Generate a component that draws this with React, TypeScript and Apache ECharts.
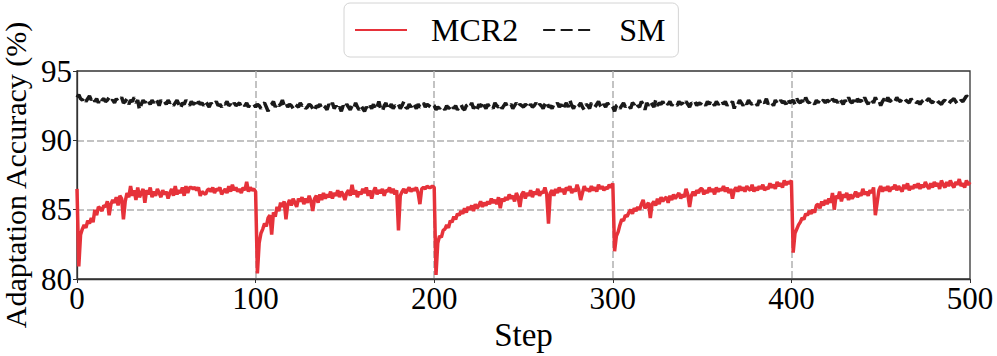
import React, { useEffect, useRef } from "react";
import * as echarts from "echarts";

// ---- Data ----
const xTicks = [0, 100, 200, 300, 400, 500];
const yTicks = [80, 85, 90, 95];

const mcr2Seg1 = [
  86.5, 80.9, 83.2, 83.6, 83.9, 83.7, 84.2, 84.0, 84.4, 84.1,
  85.0, 84.6, 85.2, 85.1, 84.9, 85.3, 85.2, 85.6, 84.6, 85.4,
  85.7, 85.5, 85.9, 85.3, 86.0, 85.8, 84.3, 85.6, 86.2, 85.9,
  86.7, 86.0, 86.4, 85.7, 86.6, 85.9, 86.2, 86.5, 85.5, 86.4,
  86.1, 86.6, 85.9, 86.3, 86.0, 86.5, 86.2, 85.9, 86.4, 86.1,
  86.3, 85.8, 86.2, 86.5, 86.0, 86.7, 86.1, 86.4, 86.2, 86.6,
  86.0, 86.7, 86.2, 86.6, 86.6, 86.5, 86.6, 86.4, 86.6, 86.0,
  86.3, 86.2, 86.1, 86.4, 86.5, 86.3, 86.6, 86.2, 86.5, 86.4,
  86.6, 86.1, 86.3, 86.5, 86.2, 86.7, 86.3, 86.8, 86.4, 86.6,
  86.3, 86.5, 86.2, 86.6, 86.4, 87.0, 86.3, 86.6, 86.4, 86.5,
  86.3,
];
const mcr2Seg2 = [
  80.4, 82.6, 83.3, 83.6, 84.0, 83.8, 84.4, 84.6, 83.2, 84.8,
  84.5, 85.2, 84.9, 85.5, 85.2, 85.6, 84.3, 85.4, 85.7, 85.3,
  85.8, 85.5, 85.2, 85.8, 85.6, 85.9, 85.4, 85.8, 85.5, 86.0,
  85.6, 84.9, 85.8, 86.0, 85.5, 86.1, 85.7, 86.2, 85.8, 86.1,
  85.9, 86.3, 85.8, 86.2, 86.0, 86.4, 85.9, 86.3, 86.1, 85.7,
  86.2, 86.4, 86.0, 86.8, 86.1, 86.4, 85.9, 86.3, 86.1, 86.5,
  86.2, 86.6, 86.0, 86.4, 85.8, 86.3, 86.6, 86.1, 86.4, 86.2,
  86.5, 86.0, 86.4, 86.3, 86.6, 86.2, 86.5, 86.1, 86.4, 83.5,
  86.0, 86.3, 86.5, 86.2, 86.4, 86.6, 86.3, 86.5, 86.4, 86.6,
  86.2, 85.4, 86.5, 86.6, 86.5, 86.7, 86.6, 86.6, 86.7, 86.6,
];
const mcr2Seg3 = [
  80.3, 82.6, 83.1, 83.0, 83.5, 83.6, 83.9, 83.7, 84.2, 84.1,
  84.5, 84.3, 84.7, 84.6, 84.9, 84.7, 85.1, 84.8, 85.2, 85.0,
  85.3, 84.9, 85.4, 85.1, 85.3, 85.6, 85.2, 85.5, 85.3, 85.6,
  85.4, 85.8, 85.5, 85.7, 85.4, 85.9, 85.1, 85.8, 85.6, 85.9,
  85.7, 86.1, 85.8, 86.0, 85.6, 86.2, 85.9, 85.2, 86.1, 86.3,
  85.8, 86.2, 86.0, 86.4, 85.9, 86.3, 86.1, 86.5, 86.0, 86.3,
  86.2, 86.6, 86.1, 84.0, 86.2, 86.4, 86.0, 86.5, 86.2, 86.6,
  86.3, 86.5, 86.1, 86.6, 86.4, 86.7, 86.2, 86.5, 86.3, 86.8,
  86.4, 85.7, 86.2, 86.7, 86.4, 86.5, 86.3, 86.7, 86.4, 86.6,
  86.3, 86.8, 86.5, 86.7, 86.4, 86.6, 86.5, 86.8, 86.6, 86.9,
];
const mcr2Seg4 = [
  82.0, 83.1, 83.4, 83.9, 84.3, 84.2, 84.6, 84.5, 84.8, 85.0,
  84.7, 85.1, 84.9, 85.2, 85.0, 85.4, 85.7, 85.1, 85.3, 85.5,
  84.4, 85.4, 85.6, 85.3, 85.8, 85.4, 85.9, 85.6, 85.8, 85.9,
  85.5, 86.0, 85.7, 86.1, 85.8, 86.0, 86.2, 85.8, 86.1, 85.9,
  86.5, 86.1, 85.2, 86.0, 86.3, 86.0, 86.4, 86.2, 86.5, 86.5,
  86.1, 86.4, 86.2, 86.6, 86.3, 86.5, 86.1, 86.6, 86.3, 86.5,
  86.4, 86.7, 86.3, 86.6, 86.2, 86.5, 85.8, 86.4, 86.6, 86.3,
  86.7, 86.4, 86.6, 86.3, 86.7, 86.5, 86.4, 86.8, 86.3, 86.6,
  86.4, 86.7, 86.5, 86.8, 86.4, 86.6, 86.5, 86.9, 86.6, 86.8,
  86.5, 87.0, 86.7, 86.9, 86.6, 87.1, 86.8, 87.0, 86.9, 87.1,
];
const mcr2Seg5 = [
  81.9, 83.3, 83.6, 83.9, 84.1, 84.4, 84.3, 84.7, 84.6, 84.9,
  84.7, 85.0, 84.8, 85.3, 85.4, 85.1, 85.6, 85.3, 85.7, 85.4,
  85.8, 85.5, 86.2, 85.0, 86.0, 85.8, 86.3, 85.6, 86.1, 85.9,
  86.2, 85.7, 86.1, 85.8, 86.0, 86.3, 85.9, 86.2, 86.0, 86.5,
  86.1, 86.3, 86.0, 86.4, 86.2, 86.6, 84.6, 85.5, 86.4, 86.7,
  86.3, 86.6, 86.4, 86.7, 86.3, 86.6, 86.5, 86.8, 86.4, 86.7,
  86.5, 86.3, 86.8, 86.5, 86.9, 86.4, 86.7, 86.5, 86.8, 86.6,
  86.9, 86.5, 86.8, 86.6, 87.0, 86.7, 86.5, 86.9, 86.6, 87.0,
  86.7, 86.9, 86.5, 87.1, 86.8, 86.6, 87.0, 86.7, 87.1, 86.8,
  86.6, 87.0, 86.8, 87.2, 86.7, 86.9, 86.6, 87.1, 86.8, 87.0,
];
const mcr2Values = [...mcr2Seg1, ...mcr2Seg2, ...mcr2Seg3, ...mcr2Seg4, ...mcr2Seg5];

const smValues = [
  93.1, 93.3, 93.0, 92.9, 93.1, 92.8, 93.0, 93.2, 92.9, 93.1, 92.8, 93.0, 92.7, 93.1, 92.9, 93.0, 92.8, 92.9, 93.1, 92.8,
  92.9, 92.7, 93.0, 92.8, 92.9, 93.1, 92.7, 92.8, 93.0, 92.6, 92.9, 92.8, 93.1, 92.7, 92.9, 92.2, 92.6, 92.9, 92.7, 93.0,
  92.8, 92.6, 92.9, 92.7, 93.0, 92.8, 92.5, 92.9, 92.7, 92.8, 92.6, 92.9, 92.7, 92.8, 92.5, 92.7, 92.9, 92.6, 92.3, 92.7,
  92.6, 92.9, 92.7, 92.5, 92.8, 92.6, 92.7, 92.4, 92.8, 92.6, 92.7, 92.5, 92.8, 92.6, 92.4, 92.7, 92.5, 92.6, 92.8, 92.5,
  92.6, 92.4, 92.7, 92.6, 92.8, 92.5, 92.6, 92.4, 92.7, 92.5, 92.6, 92.7, 92.4, 92.6, 92.5, 92.7, 92.4, 92.6, 92.5, 92.6,
  92.4, 92.6, 92.5, 92.3, 92.6, 92.7, 92.4, 92.1, 92.5, 92.6, 92.8, 92.4, 92.7, 92.5, 92.6, 92.9, 92.5, 92.7, 92.4, 92.6,
  92.5, 92.3, 92.6, 92.5, 92.4, 92.7, 92.5, 92.6, 92.3, 92.4, 92.6, 92.5, 92.3, 92.1, 92.5, 92.4, 92.6, 92.3, 92.5, 92.4,
  92.2, 92.6, 92.4, 92.7, 92.3, 92.5, 92.2, 92.4, 92.1, 92.5, 92.3, 92.6, 92.4, 92.2, 92.5, 92.3, 92.7, 92.4, 92.2, 92.5,
  92.3, 92.1, 92.4, 92.2, 92.5, 92.3, 92.6, 92.2, 92.4, 92.8, 92.3, 92.1, 92.5, 92.7, 92.2, 92.4, 92.6, 92.3, 92.5, 92.4,
  92.6, 92.3, 92.5, 92.8, 92.4, 92.3, 92.6, 92.4, 92.7, 92.5, 92.3, 92.6, 92.4, 92.5, 92.7, 92.4, 92.6, 92.5, 92.4, 92.6,
  92.5, 92.2, 92.4, 92.3, 92.5, 92.4, 92.2, 92.5, 92.3, 92.4, 92.6, 92.3, 92.5, 92.2, 92.4, 92.6, 92.3, 92.2, 92.5, 92.6,
  92.4, 92.7, 92.3, 92.5, 92.2, 92.6, 92.4, 92.8, 92.5, 92.3, 92.6, 92.4, 92.5, 92.3, 92.7, 92.5, 92.4, 92.6, 92.3, 92.5,
  92.7, 92.4, 92.5, 92.6, 92.3, 92.5, 92.7, 92.4, 92.6, 92.5, 92.4, 92.6, 92.5, 92.3, 92.6, 92.4, 92.5, 92.7, 92.4, 92.6,
  92.5, 92.3, 92.6, 92.8, 92.4, 92.5, 92.3, 92.6, 92.5, 92.7, 92.4, 92.6, 92.2, 92.5, 92.7, 92.4, 92.9, 92.5, 92.3, 92.6,
  92.4, 92.5, 92.7, 92.4, 92.2, 92.6, 92.5, 92.3, 92.7, 92.5, 92.4, 92.6, 92.8, 92.5, 92.3, 92.6, 92.4, 92.7, 92.5, 92.6,
  92.4, 92.1, 92.5, 92.6, 92.3, 92.5, 92.7, 92.4, 92.6, 92.5, 92.3, 92.7, 92.6, 92.8, 92.5, 92.4, 92.8, 92.6, 92.2, 92.7,
  92.5, 92.8, 92.6, 92.4, 92.9, 92.5, 92.7, 92.6, 92.8, 92.5, 92.7, 92.6, 92.8, 92.5, 92.7, 92.6, 92.5, 92.8, 92.6, 92.7,
  92.5, 92.8, 92.6, 92.4, 92.7, 92.6, 92.8, 92.5, 92.7, 92.6, 92.8, 92.7, 92.5, 92.8, 92.6, 92.9, 92.7, 92.5, 92.8, 92.6,
  92.7, 92.9, 92.6, 92.8, 92.5, 92.7, 92.6, 92.8, 92.3, 92.7, 92.6, 92.9, 92.7, 92.5, 92.8, 92.6, 92.9, 92.7, 92.6, 92.8,
  92.7, 92.5, 92.9, 92.6, 92.8, 92.7, 93.0, 92.6, 92.8, 92.7, 92.5, 92.9, 92.7, 92.6, 92.9, 92.7, 92.8, 92.6, 93.0, 92.7,
  92.8, 92.9, 92.6, 93.0, 92.8, 92.7, 92.9, 92.6, 93.1, 92.8, 92.7, 92.9, 92.8, 92.6, 92.9, 92.7, 93.0, 92.8, 92.9, 92.7,
  92.9, 92.8, 92.6, 93.0, 92.8, 92.9, 92.7, 93.0, 92.8, 92.6, 92.9, 92.7, 93.1, 92.8, 92.7, 92.9, 92.6, 93.0, 92.8, 92.9,
  92.7, 93.1, 92.8, 92.6, 93.0, 92.9, 92.7, 93.1, 92.8, 92.9, 92.5, 92.8, 93.0, 92.7, 93.1, 92.8, 92.9, 93.0, 92.8, 93.1,
  92.9, 92.8, 93.0, 93.1, 92.9, 92.8, 92.7, 93.0, 92.8, 92.9, 92.7, 92.8, 92.6, 92.8, 92.9, 92.7, 92.9, 93.0, 92.8, 92.7,
  92.9, 93.0, 92.8, 92.7, 92.6, 92.8, 92.9, 92.7, 92.6, 92.8, 92.9, 93.0, 92.8, 92.6, 92.7, 92.9, 92.8, 93.0, 93.2, 93.1,
  93.3,
];

const seriesNames = ["MCR2", "SM"];
const xName = "Step";
const yName = "Adaptation Accuracy (%)";

const FONT = "'Liberation Serif', 'DejaVu Serif', serif";

export default function App() {
  const ref = useRef<HTMLDivElement>(null);

  useEffect(() => {
    if (!ref.current) return;
    const chart = echarts.init(ref.current, undefined, { renderer: "svg" });
    const toPairs = (arr: number[]) => arr.map((v, i) => [i, v]);

    const gridSplit = {
      show: true,
      showMinLine: false,
      showMaxLine: false,
      lineStyle: { color: "#b0b0b0", width: 1.5, type: [7, 3] },
    };

    chart.setOption({
      animation: false,
      backgroundColor: "#ffffff",
      grid: {
        left: 77,
        right: 27,
        top: 71,
        bottom: 77,
        show: true,
        borderColor: "#333333",
        borderWidth: 1.3,
        backgroundColor: "transparent",
        outerBoundsMode: "none",
        containLabel: false,
      },
      legend: {
        data: seriesNames,
        left: 344,
        top: 3,
        orient: "horizontal",
        itemWidth: 52,
        itemHeight: 14,
        itemGap: 24,
        padding: [11, 13, 11, 10],
        backgroundColor: "#ffffff",
        borderColor: "#d4d4d4",
        borderWidth: 1,
        borderRadius: 6,
        itemStyle: { opacity: 0 },
        textStyle: {
          fontFamily: FONT,
          fontSize: 32,
          color: "#000000",
          padding: [0, 0, 0, 19],
        },
      },
      xAxis: {
        type: "value",
        min: xTicks[0],
        max: xTicks[xTicks.length - 1],
        interval: 100,
        name: xName,
        nameLocation: "middle",
        nameGap: 37,
        nameTextStyle: { fontFamily: FONT, fontSize: 33, color: "#000000" },
        axisLine: { show: true, lineStyle: { color: "#333333", width: 1.3 } },
        axisTick: { show: true, length: 4, lineStyle: { color: "#333333" } },
        axisLabel: {
          fontFamily: FONT,
          fontSize: 31,
          color: "#000000",
          margin: 4,
        },
        splitLine: gridSplit,
      },
      yAxis: {
        type: "value",
        min: yTicks[0],
        max: yTicks[yTicks.length - 1],
        interval: 5,
        name: yName,
        nameLocation: "middle",
        nameRotate: 90,
        nameGap: 40,
        nameTextStyle: {
          fontFamily: FONT,
          fontSize: 30,
          color: "#000000",
          lineHeight: 30,
        },
        axisLine: { show: true, lineStyle: { color: "#333333", width: 1.3 } },
        axisTick: { show: true, length: 4, lineStyle: { color: "#333333" } },
        axisLabel: {
          fontFamily: FONT,
          fontSize: 31,
          color: "#000000",
          margin: 5,
        },
        splitLine: gridSplit,
      },
      series: [
        {
          name: seriesNames[0],
          type: "line",
          data: toPairs(mcr2Values),
          symbol: "none",
          showSymbol: false,
          itemStyle: { color: "#e6323a" },
          lineStyle: { color: "#e6323a", width: 3.5 },
          z: 3,
        },
        {
          name: seriesNames[1],
          type: "line",
          data: toPairs(smValues),
          symbol: "none",
          showSymbol: false,
          itemStyle: { color: "#1a1a1a" },
          lineStyle: { color: "#1a1a1a", width: 3.5, type: [12, 5.5] },
          z: 4,
        },
      ],
    });

    return () => {
      chart.dispose();
    };
  }, []);

  return (
    <div
      ref={ref}
      style={{ position: "fixed", left: 0, top: 0, width: 997, height: 356 }}
    />
  );
}
